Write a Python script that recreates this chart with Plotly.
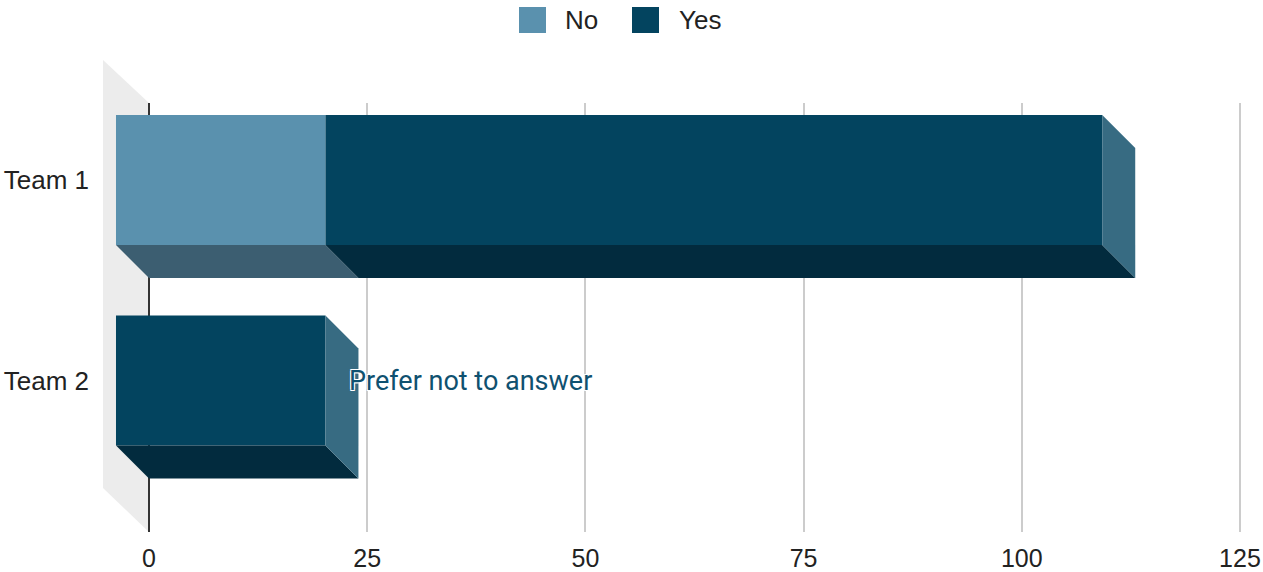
import plotly.graph_objects as go

# ---- data ----
categories = ["Team 1", "Team 2"]
series_names = ["No", "Yes"]
no_values = [24, 0]
yes_values = [89, 24]
x_tick_values = [0, 25, 50, 75, 100, 125]
note_text = "Prefer not to answer"

# ---- styling ----
front_colors = {"No": "#5a91ae", "Yes": "#03445f"}
bottom_colors = {"No": "#3c5e71", "Yes": "#022b3e"}
side_colors = {"No": "#4a7890", "Yes": "#376b82"}
wall_color = "#ececec"
text_color = "#222222"
note_color = "#0f5170"
label_font = "Liberation Sans, Arial, sans-serif"

# ---- layout geometry ----
W, H = 1263, 572
ML, MR, MT, MB = 92, 0, 0, 40
plot_w = W - ML - MR
plot_h = H - MT - MB
x_range = [-6.53, 127.64]
y_range = [1.7556, -0.384]
y_domain_top = 1 - 103 / plot_h

x_px_per_unit = plot_w / (x_range[1] - x_range[0])
y_px_per_unit = plot_h * y_domain_top / (y_range[0] - y_range[1])

depth_px = 33          # bar extrusion depth
wall_depth_px = 46     # left wall depth
bar_px = 130           # bar thickness

dx = depth_px / x_px_per_unit
dy = depth_px / y_px_per_unit
bw = bar_px / y_px_per_unit
wall_dx = wall_depth_px / x_px_per_unit


def paper_x(px):
    return (px - ML) / plot_w


def paper_y(py):
    return 1 - (py - MT) / plot_h


fig = go.Figure()

series_values = {"No": no_values, "Yes": yes_values}

for i, cat in enumerate(categories):
    start = 0
    segments = []
    for name in series_names:
        v = series_values[name][i]
        if v > 0:
            segments.append((name, start, start + v))
        start += v
    yt = i - bw / 2
    yb = i + bw / 2
    for k, (name, x0, x1) in enumerate(segments):
        # bottom face
        fig.add_trace(go.Scatter(
            x=[x0 - dx, x1 - dx, x1, x0, x0 - dx],
            y=[yb, yb, yb + dy, yb + dy, yb],
            mode="lines", fill="toself", fillcolor=bottom_colors[name],
            line=dict(width=0, color=bottom_colors[name]),
            hoverinfo="skip", showlegend=False,
        ))
        # front face
        fig.add_trace(go.Bar(
            y=[i], x=[x1 - x0], base=[x0 - dx], width=bw,
            orientation="h", marker=dict(color=front_colors[name], line=dict(width=0)),
            name=name, showlegend=False, hoverinfo="skip",
        ))
        # right face at the end of the stack
        if k == len(segments) - 1:
            fig.add_trace(go.Scatter(
                x=[x1 - dx, x1, x1, x1 - dx, x1 - dx],
                y=[yt, yt + dy, yb + dy, yb, yt],
                mode="lines", fill="toself", fillcolor=side_colors[name],
                line=dict(width=0, color=side_colors[name]),
                hoverinfo="skip", showlegend=False,
            ))

team2_total = no_values[1] + yes_values[1]

shapes = [
    # left wall of the 3D box
    dict(
        type="path", xref="x", yref="paper", layer="below",
        path=(f"M {-wall_dx},{paper_y(60)} L 0,{y_domain_top} L 0,0 "
              f"L {-wall_dx},{paper_y(488)} Z"),
        fillcolor=wall_color, line=dict(width=0),
    ),
]

annotations = [
    dict(
        x=team2_total, y=1, xref="x", yref="y", text=note_text,
        showarrow=False, xanchor="left", yanchor="middle", xshift=-11,
        font=dict(family="Roboto, sans-serif", size=27, color=note_color,
                  shadow="1px 1px 0 white, -1px -1px 0 white, 1px -1px 0 white, -1px 1px 0 white"),
    )
]

# legend
legend_items = [("No", 519, 563), ("Yes", 632, 677)]
for name, sq_x, txt_x in legend_items:
    shapes.append(dict(
        type="rect", xref="paper", yref="paper",
        x0=paper_x(sq_x), x1=paper_x(sq_x + 27), y0=paper_y(7), y1=paper_y(33),
        fillcolor=front_colors[name], line=dict(width=0),
    ))
    annotations.append(dict(
        x=paper_x(txt_x), y=paper_y(20), xref="paper", yref="paper", text=name,
        showarrow=False, xanchor="left", yanchor="middle",
        font=dict(family=label_font, size=26, color=text_color),
    ))

fig.update_layout(
    width=W, height=H,
    margin=dict(l=ML, r=MR, t=MT, b=MB),
    paper_bgcolor="white", plot_bgcolor="rgba(0,0,0,0)",
    barmode="overlay",
    showlegend=False,
    shapes=shapes,
    annotations=annotations,
    xaxis=dict(
        range=x_range, tickvals=x_tick_values, ticks="",
        showgrid=True, gridcolor="#cccccc", gridwidth=2,
        zeroline=True, zerolinecolor="#333333", zerolinewidth=2,
        showline=False, ticklabelstandoff=9,
        tickfont=dict(family=label_font, size=25, color=text_color),
        fixedrange=True,
    ),
    yaxis=dict(
        range=y_range, domain=[0, y_domain_top],
        tickvals=list(range(len(categories))), ticktext=categories, ticks="",
        showgrid=False, zeroline=False, showline=False, ticklabelstandoff=2,
        tickfont=dict(family=label_font, size=26, color=text_color),
        fixedrange=True,
    ),
)

fig.write_html("out.html")
